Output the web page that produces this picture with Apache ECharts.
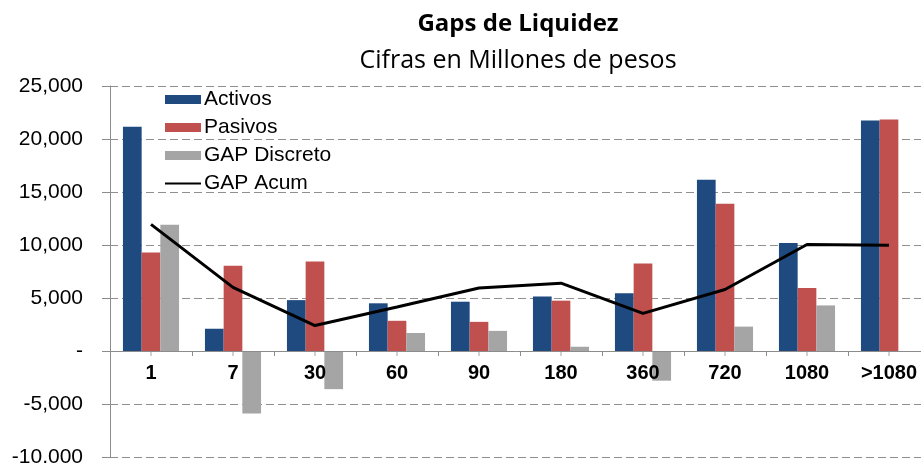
<!DOCTYPE html>
<html>
<head>
<meta charset="utf-8">
<script src="https://cdn.jsdelivr.net/npm/echarts@6/dist/echarts.min.js"></script>
<style>
html,body{margin:0;padding:0;background:#fff;}
#chart{width:921px;height:463px;}
</style>
</head>
<body>
<div id="chart"></div>
<script>
var titleText = 'Gaps de Liquidez';
var subtitleText = 'Cifras en Millones de pesos';
var categories = ['1', '7', '30', '60', '90', '180', '360', '720', '1080', '>1080'];
var activos = [21150, 2100, 4800, 4500, 4650, 5150, 5450, 16150, 10200, 21750];
var pasivos = [9300, 8050, 8450, 2850, 2750, 4750, 8250, 13900, 5950, 21850];
var gapDiscreto = [11900, -5900, -3600, 1700, 1900, 400, -2800, 2300, 4300, -80];
var gapAcum = [11950, 6000, 2400, 4150, 5950, 6400, 3550, 5800, 10050, 9980];
var yMin = -10000, yMax = 25000, yStep = 5000;

var chart = echarts.init(document.getElementById('chart'), null, {renderer: 'canvas'});
var axisGray = '#8c8c8c';
var option = {
  animation: false,
  backgroundColor: '#ffffff',
  title: [
    {text: titleText, left: 513, top: 7, textAlign: 'center',
     textStyle: {fontFamily: 'Open Sans', fontWeight: 'bold', fontSize: 24, color: '#000'}},
    {text: subtitleText, left: 513, top: 43, textAlign: 'center',
     textStyle: {fontFamily: 'Open Sans', fontWeight: 'normal', fontSize: 25, color: '#000'}}
  ],
  legend: {
    orient: 'vertical',
    left: 164,
    top: 89,
    itemWidth: 36,
    itemHeight: 9,
    itemGap: 7,
    padding: 0,
    textStyle: {fontFamily: 'Liberation Sans', fontSize: 21, color: '#000', padding: [0, 0, 0, -2]},
    data: [
      {name: 'Activos', icon: 'rect'},
      {name: 'Pasivos', icon: 'rect'},
      {name: 'GAP Discreto', icon: 'rect'},
      {name: 'GAP Acum', itemStyle: {opacity: 0}}
    ]
  },
  grid: {left: 110, right: -9, top: 86, bottom: 6, outerBoundsMode: 'none', containLabel: false},
  xAxis: {
    type: 'category',
    position: 'bottom',
    offset: 0,
    data: categories,
    z: 4,
    axisLine: {onZero: false, lineStyle: {color: axisGray, width: 1}},
    axisTick: {show: true, length: 5, lineStyle: {color: axisGray}},
    axisLabel: {fontFamily: 'Liberation Sans', fontWeight: 'bold', fontSize: 20, color: '#000', margin: 12, interval: 0},
    splitLine: {show: false}
  },
  yAxis: {
    type: 'value',
    min: yMin,
    max: yMax,
    interval: yStep,
    axisLine: {show: true, lineStyle: {color: axisGray, width: 1}},
    axisTick: {show: true, length: 8, lineStyle: {color: axisGray}},
    axisLabel: {
      fontFamily: 'Liberation Sans', fontSize: 21, color: '#000', margin: 27,
      formatter: function (v) { return v === 0 ? '-' : v.toLocaleString('en-US'); }
    },
    splitLine: {show: true, lineStyle: {color: '#8f8f8f', width: 1, type: [8, 4]}}
  },
  series: [
    {name: 'Activos', type: 'bar', data: activos, barWidth: 18.7, barGap: '0%',
     itemStyle: {color: '#1f4a7f'}},
    {name: 'Pasivos', type: 'bar', data: pasivos, barWidth: 18.7, barGap: '0%',
     itemStyle: {color: '#c0504d'}},
    {name: 'GAP Discreto', type: 'bar', data: gapDiscreto, barWidth: 18.7, barGap: '0%',
     itemStyle: {color: '#a5a5a5'}},
    {name: 'GAP Acum', type: 'line', data: gapAcum, symbol: 'none', z: 5,
     lineStyle: {color: '#000', width: 3}, itemStyle: {color: '#000'}},
    {name: 'centerTicks', type: 'scatter', silent: true, z: 1,
     data: categories.map(function (c) { return [c, 0]; }),
     symbol: 'rect', symbolSize: [1, 5], symbolOffset: [0, 2.5],
     itemStyle: {color: axisGray}}
  ]
};
chart.setOption(option);
// place the category axis on the zero value using the library's own y scale
var zeroY = chart.convertToPixel({yAxisIndex: 0}, 0);
var bottomY = chart.convertToPixel({yAxisIndex: 0}, yMin);
chart.setOption({xAxis: {offset: zeroY - bottomY}});
</script>
</body>
</html>
